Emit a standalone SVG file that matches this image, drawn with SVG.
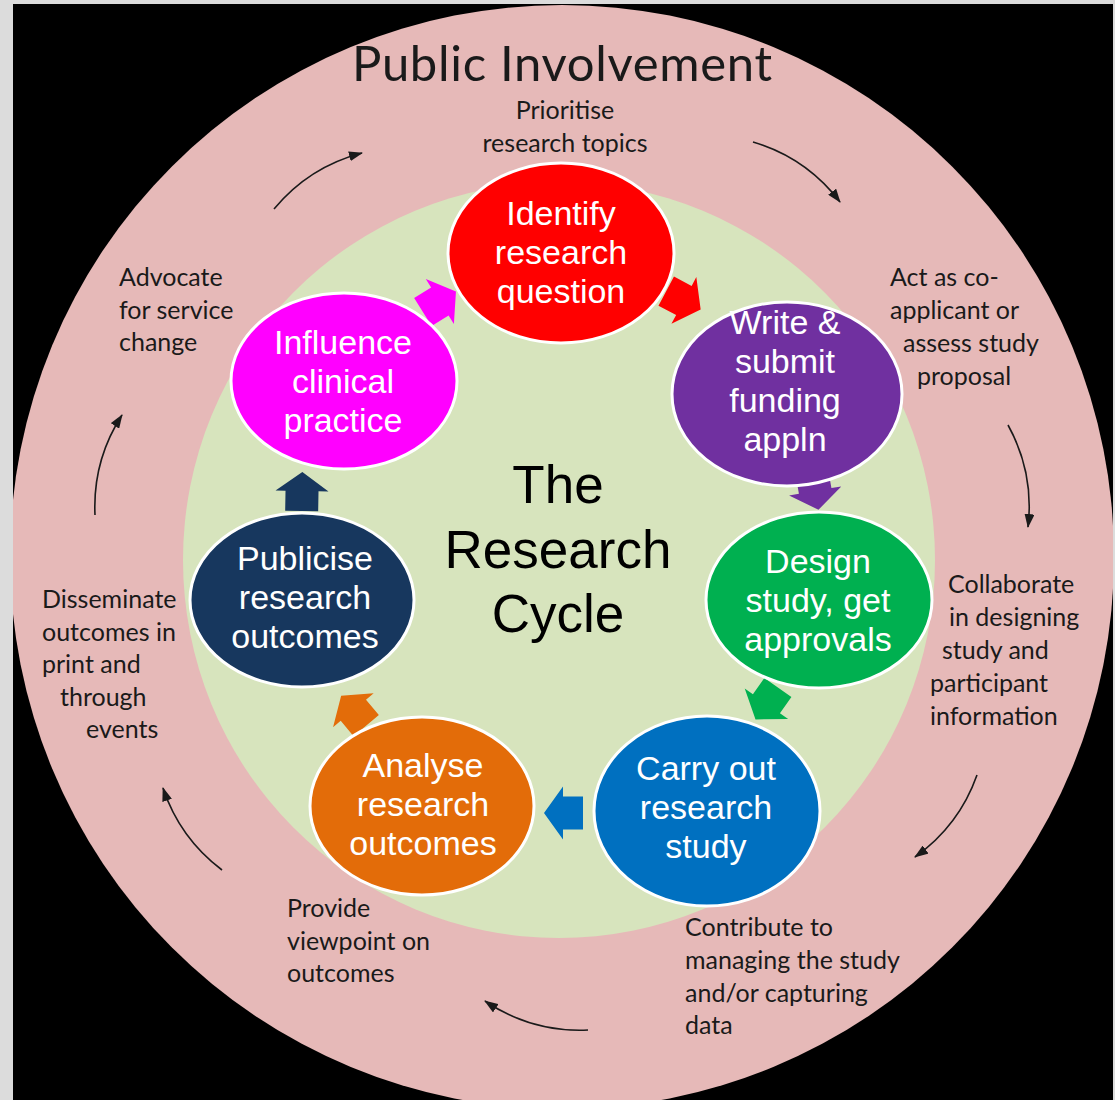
<svg xmlns="http://www.w3.org/2000/svg" width="1115" height="1100" viewBox="0 0 1115 1100">
<style>
.node{stroke:#ffffff;stroke-width:3}
.nt{font-family:"Liberation Sans",Arial,sans-serif;font-size:34px;fill:#ffffff;text-anchor:middle}
.st{font-family:Lato,"Open Sans",sans-serif;font-size:25px;fill:#1a1a1a}
.arc{fill:none;stroke:#1a1a1a;stroke-width:1.6;marker-end:url(#ah)}
</style>
<defs>
<marker id="ah" markerUnits="userSpaceOnUse" markerWidth="14" markerHeight="10" viewBox="0 0 14 10" refX="13" refY="5" orient="auto">
<path d="M0,0 L14,5 L0,10 Z" fill="#1a1a1a"/>
</marker>
<path id="ba" d="M-19,-16.5 H1 V-26.5 L20,0 L1,26.5 V16.5 H-19 Z"/>
</defs>
<rect x="0" y="0" width="1115" height="1100" fill="#000000"/>
<g id="ring">
<circle cx="562" cy="557" r="552" fill="#e6b9b8"/>
<ellipse cx="559" cy="560" rx="376" ry="378" fill="#d7e4bd"/>
</g>
<rect x="0" y="0" width="13" height="1100" fill="#dcdcdc"/>
<rect x="0" y="0" width="1115" height="4" fill="#dcdcdc"/>
<rect x="1113" y="0" width="2" height="1100" fill="#dcdcdc"/>
<g id="title">
<text x="562" y="81" font-family="Lato,'Open Sans',sans-serif" font-size="49" fill="#1a1a1a" text-anchor="middle" textLength="420">Public Involvement</text>
</g>
<g id="cycle-title" font-family="'Liberation Sans',Arial,sans-serif" font-size="53" fill="#000000" text-anchor="middle">
<text x="558" y="503">The</text>
<text x="558" y="568">Research</text>
<text x="558" y="632">Cycle</text>
</g>
<g id="connectors">
<use href="#ba" fill="#ff00ff" transform="translate(439,302) rotate(-32)"/>
<use href="#ba" fill="#ff0000" transform="translate(683,300) rotate(28)"/>
<use href="#ba" fill="#7030a0" transform="translate(815,490) rotate(80)"/>
<use href="#ba" fill="#00b050" transform="translate(767,703) rotate(125)"/>
<use href="#ba" fill="#0070c0" transform="translate(564,813) rotate(180)"/>
<use href="#ba" fill="#e36c09" transform="translate(354,711) rotate(-130)"/>
<use href="#ba" fill="#17375e" transform="translate(302,492) rotate(-89)"/>
<path class="arc" d="M274,209 A170,170 0 0 1 362,153"/>
<path class="arc" d="M753,142 A170,170 0 0 1 840,202"/>
<path class="arc" d="M1008,425 A170,170 0 0 1 1028,527"/>
<path class="arc" d="M977,775 A170,170 0 0 1 915,857"/>
<path class="arc" d="M588,1030 A170,170 0 0 1 485,1001"/>
<path class="arc" d="M222,870 A170,170 0 0 1 163,788"/>
<path class="arc" d="M95,515 A170,170 0 0 1 122,415"/>
</g>
<g id="n-identify">
<ellipse class="node" cx="561" cy="253" rx="113" ry="90" fill="#ff0000"/>
<text class="nt" x="561" y="225">Identify</text>
<text class="nt" x="561" y="264">research</text>
<text class="nt" x="561" y="303">question</text>
</g>
<g id="n-write">
<ellipse class="node" cx="787" cy="394" rx="115" ry="92" fill="#7030a0"/>
<text class="nt" x="785" y="334">Write &amp;</text>
<text class="nt" x="785" y="373">submit</text>
<text class="nt" x="785" y="412">funding</text>
<text class="nt" x="785" y="451">appln</text>
</g>
<g id="n-design">
<ellipse class="node" cx="819" cy="600" rx="113" ry="88" fill="#00b050"/>
<text class="nt" x="818" y="573">Design</text>
<text class="nt" x="818" y="612">study, get</text>
<text class="nt" x="818" y="651">approvals</text>
</g>
<g id="n-carry">
<ellipse class="node" cx="707" cy="811" rx="113" ry="95" fill="#0070c0"/>
<text class="nt" x="706" y="780">Carry out</text>
<text class="nt" x="706" y="819">research</text>
<text class="nt" x="706" y="858">study</text>
</g>
<g id="n-analyse">
<ellipse class="node" cx="422" cy="806" rx="112" ry="89" fill="#e36c09"/>
<text class="nt" x="423" y="777">Analyse</text>
<text class="nt" x="423" y="816">research</text>
<text class="nt" x="423" y="855">outcomes</text>
</g>
<g id="n-publicise">
<ellipse class="node" cx="302" cy="600" rx="112" ry="87" fill="#17375e"/>
<text class="nt" x="305" y="570">Publicise</text>
<text class="nt" x="305" y="609">research</text>
<text class="nt" x="305" y="648">outcomes</text>
</g>
<g id="n-influence">
<ellipse class="node" cx="344" cy="381" rx="113" ry="88" fill="#ff00ff"/>
<text class="nt" x="343" y="354">Influence</text>
<text class="nt" x="343" y="393">clinical</text>
<text class="nt" x="343" y="432">practice</text>
</g>
<g id="labels">
<text class="st" x="565" y="119" text-anchor="middle">Prioritise</text>
<text class="st" x="565" y="152" text-anchor="middle">research topics</text>
<text class="st" x="890" y="286">Act as co-</text>
<text class="st" x="890" y="319">applicant or</text>
<text class="st" x="903" y="352">assess study</text>
<text class="st" x="917" y="385">proposal</text>
<text class="st" x="948" y="593">Collaborate</text>
<text class="st" x="949" y="626">in designing</text>
<text class="st" x="942" y="659">study and</text>
<text class="st" x="930" y="692">participant</text>
<text class="st" x="930" y="725">information</text>
<text class="st" x="685" y="936">Contribute to</text>
<text class="st" x="685" y="969">managing the study</text>
<text class="st" x="685" y="1002">and/or capturing</text>
<text class="st" x="685" y="1034">data</text>
<text class="st" x="287" y="917">Provide</text>
<text class="st" x="287" y="950">viewpoint on</text>
<text class="st" x="287" y="982">outcomes</text>
<text class="st" x="42" y="608">Disseminate</text>
<text class="st" x="42" y="641">outcomes in</text>
<text class="st" x="42" y="673">print and</text>
<text class="st" x="60" y="706">through</text>
<text class="st" x="86" y="738">events</text>
<text class="st" x="119" y="286">Advocate</text>
<text class="st" x="119" y="319">for service</text>
<text class="st" x="119" y="351">change</text>
</g>
</svg>
